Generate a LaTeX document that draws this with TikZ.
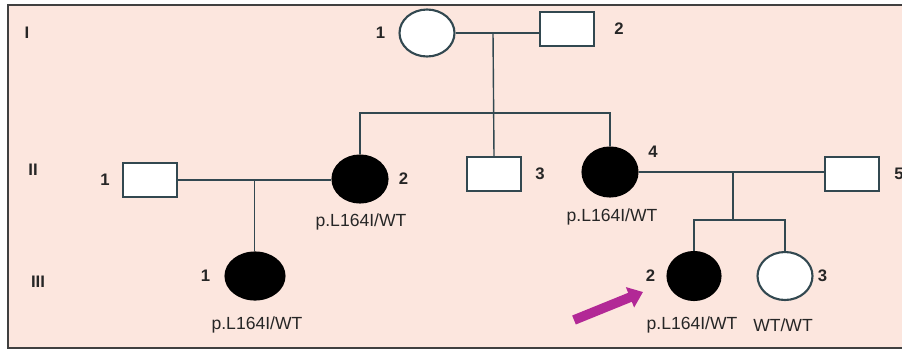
\documentclass[tikz,border=0pt]{standalone}
\usepackage{fontspec}
\setmainfont{Liberation Sans}
\usetikzlibrary{positioning,shapes.geometric,arrows.meta,calc}
\definecolor{bgpink}{RGB}{252,230,222}
\definecolor{linegray}{RGB}{50,72,80}
\definecolor{probandmag}{RGB}{178,40,150}
\begin{document}
\begin{tikzpicture}[
        x=0.02cm, y=-0.02cm,
        male/.style={rectangle, draw=linegray, line width=1.2pt, fill=white, minimum width=1.08cm, minimum height=0.68cm, inner sep=0pt},
        female/.style={ellipse, draw=linegray, line width=1.2pt, fill=white, minimum width=1.1cm, minimum height=0.94cm, inner sep=0pt},
        affected/.style={fill=black, draw=black},
        num/.style={inner sep=0pt, font=\bfseries\fontsize{9.5}{10}\selectfont, text=black!85},
        gen/.style={inner sep=0pt, font=\bfseries\fontsize{9.5}{10}\selectfont, text=black!85},
        geno/.style={inner sep=0pt, font=\fontsize{10}{11}\selectfont, text=black!85},
        link/.style={draw=linegray, line width=0.8pt},
        proband/.style={-{Triangle[width=12pt,length=8pt]}, line width=5.5pt, draw=probandmag}
    ]
        % frame and background
        \useasboundingbox (0,0) rectangle (902,352);
        \draw[fill=bgpink, draw=black!75, line width=1pt] (8,5) rectangle (915,348);

        % generations
        \node[gen] (g1) at (27,33) {I};
        \node[gen] (g2) at (33,170) {II};
        \node[gen] (g3) at (38,282) {III};

        % generation I
        \node[female] (i1) at (427,33) {};
        \node[male] (i2) at (567,29) {};
        \node[num, left=0.26cm of i1] (n-i1) {1};
        \node[num, right=0.38cm of i2] (n-i2) {2};

        % generation II
        \node[male] (ii1) at (150,180) {};
        \node[female, affected] (ii2) at (360,179) {};
        \node[male] (ii3) at (494,174) {};
        \node[female, affected, minimum height=0.98cm] (ii4) at (610,172) {};
        \node[male] (ii5) at (852,174) {};
        \node[num, left=0.24cm of ii1] (n-ii1) {1};
        \node[num, right=0.2cm of ii2] (n-ii2) {2};
        \node[num, right=0.26cm of ii3] (n-ii3) {3};
        \node[num] (n-ii4) at (653,152) {4};
        \node[num, right=0.28cm of ii5] (n-ii5) {5};
        \node[geno] (t-ii2) at (361,222) {p.L164I/WT};
        \node[geno] (t-ii4) at (612,217) {p.L164I/WT};

        % generation III
        \node[female, affected, minimum width=1.18cm] (iii1) at (255,276) {};
        \node[female, affected, minimum width=1.06cm, minimum height=0.96cm] (iii2) at (694,276) {};
        \node[female, minimum height=0.96cm] (iii3) at (785,276) {};
        \node[num, left=0.28cm of iii1] (n-iii1) {1};
        \node[num, left=0.22cm of iii2] (n-iii2) {2};
        \node[num, right=0.08cm of iii3] (n-iii3) {3};
        \node[geno] (t-iii1) at (257,325) {p.L164I/WT};
        \node[geno] (t-iii2) at (692,325) {p.L164I/WT};
        \node[geno] (t-iii3) at (783,325) {WT/WT};

        % mating and descent lines
        \coordinate (m1) at (493,33);
        \coordinate (s1) at (493,113);
        \draw[link] (i1.east) -- (i1.east -| i2.west);
        \draw[link] (m1) -- (ii3.north);
        \draw[link] (ii2.north) |- (s1) -| (ii4.north);

        \coordinate (m2) at ($(ii1.east)!0.5!(ii2.west)$);
        \draw[link] (ii1.east) -- (ii1.east -| ii2.west);
        \draw[link] (m2) -- (m2 |- iii1.north);

        \coordinate (m3) at (733,173);
        \coordinate (s3) at (733,220);
        \draw[link] (ii4.east) -- (ii4.east -| ii5.west);
        \draw[link] (m3) -- (s3);
        \draw[link] (iii2.north) |- (s3) -| (iii3.north);

        % proband
        \coordinate (p-tail) at (574,320);
        \coordinate (p-tip) at (643,292);
        \draw[proband] (p-tail) -- (p-tip);
    \end{tikzpicture}
\end{document}
